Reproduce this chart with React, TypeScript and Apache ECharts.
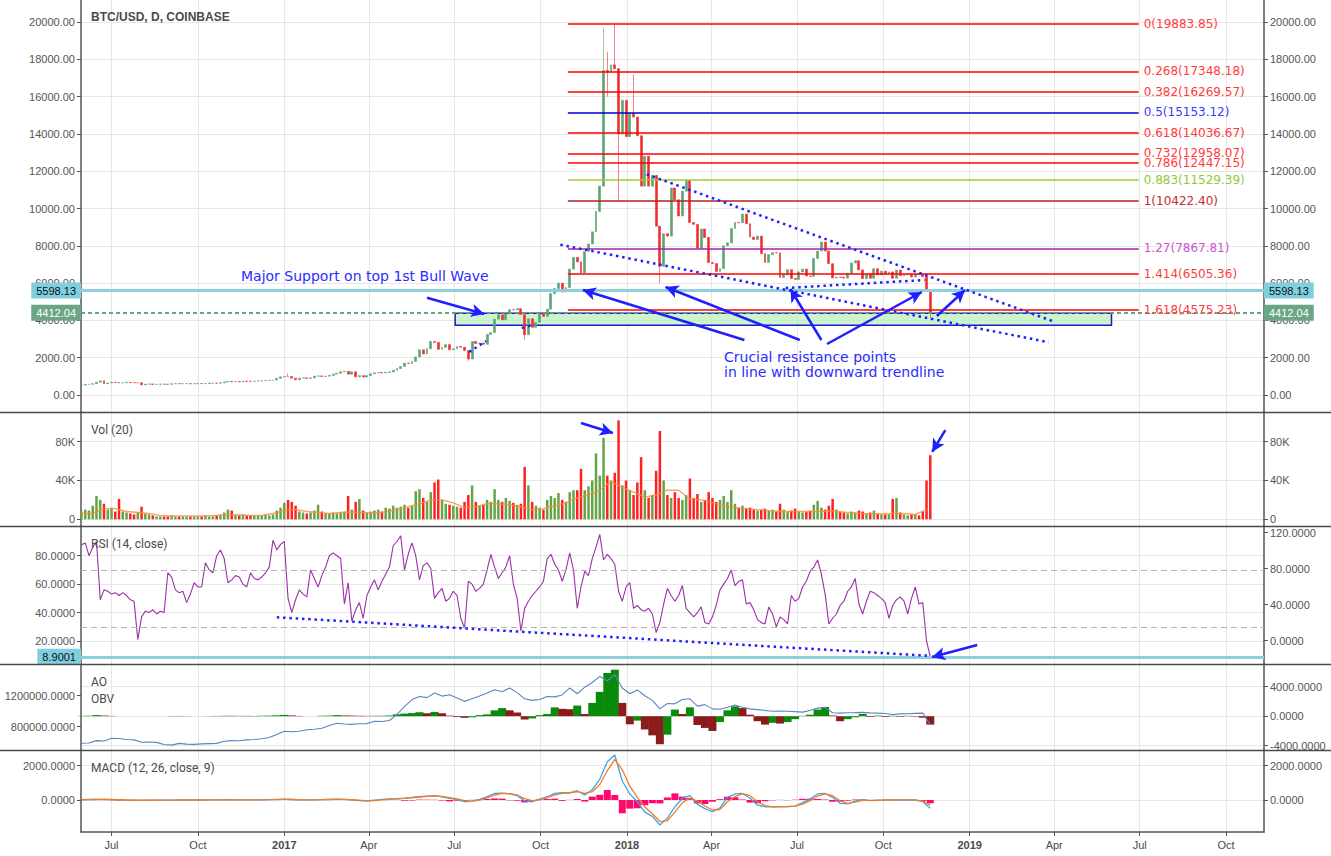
import React, { useEffect, useRef } from 'react';
import * as echarts from 'echarts';

const DAY = 86400000;
const START = Date.UTC(2016, 4, 30);
const CANDLE_STEP = 4;
const IND_STEP = 8;
const MA_STEP = 12;
const X_MIN = Date.UTC(2016, 4, 29, 12);
const X_MAX = Date.UTC(2019, 10, 10, 10);

const d = (s: string) => {
  const [y, m, dd] = s.split('-').map(Number);
  return Date.UTC(y, m - 1, dd);
};

const xTickDates = ['2016-07-01', '2016-10-01', '2017-01-01', '2017-04-01', '2017-07-01', '2017-10-01', '2018-01-01', '2018-04-01', '2018-07-01', '2018-10-01', '2019-01-01', '2019-04-01', '2019-07-01', '2019-10-01'];
const MONTHS = ['Jan', 'Feb', 'Mar', 'Apr', 'May', 'Jun', 'Jul', 'Aug', 'Sep', 'Oct', 'Nov', 'Dec'];

// BTC/USD closes, one every 4 days from 2016-05-30
const closes = [
  530, 570, 580, 605, 690, 760, 610, 645, 680, 670,
  650, 655, 680, 665, 655, 655, 545, 585, 592, 570,
  575, 585, 578, 575, 605, 612, 605, 607, 610, 602,
  605, 614, 612, 616, 637, 638, 632, 655, 700, 735,
  710, 715, 705, 750, 738, 735, 742, 765, 770, 780,
  785, 800, 895, 975, 998, 990, 905, 820, 905, 920,
  895, 920, 1010, 1025, 995, 1010, 1055, 1125, 1170, 1250,
  1270, 1115, 1245, 975, 1040, 965, 1040, 1140, 1190, 1205,
  1180, 1210, 1240, 1330, 1420, 1530, 1710, 1690, 1800, 2040,
  2420, 2200, 2480, 2870, 2820, 2450, 2550, 2700, 2430, 2480,
  2600, 2560, 2380, 1930, 2870, 2760, 2790, 2720, 3250, 3350,
  4070, 4300, 4030, 4360, 4580, 4570, 4630, 4320, 3230, 4090,
  3630, 3900, 4360, 4220, 4600, 5440, 5710, 6000, 5520, 5760,
  6750, 7380, 7140, 6550, 7700, 8100, 8750, 9840, 11200, 17400,
  17300, 17700, 17500, 14000, 15800, 13850, 15100, 14900, 13900, 11200,
  12800, 11200, 11780, 9050, 6900, 8650, 8520, 11100, 10470, 9600,
  10930, 11500, 9250, 9150, 7870, 8900, 8450, 7100, 7050, 6620,
  6780, 8000, 8160, 8930, 9250, 9240, 9700, 9180, 8470, 8340,
  8520, 7580, 7110, 7530, 7630, 7620, 6300, 6450, 6720, 6250,
  6200, 6600, 6750, 6380, 6360, 7320, 7720, 8200, 7720, 7040,
  6280, 6320, 6310, 6270, 6530, 7080, 7200, 6710, 6240, 6490,
  6260, 6770, 6440, 6640, 6500, 6600, 6260, 6700, 6400, 6450,
  6470, 6330, 6480, 6450, 6350, 5600, 4412.04,
];
const firstOpen = 525;
// wick extremes for a few candles (index into closes)
const wickIdx = [55, 103, 118, 139, 140, 142, 143, 147, 154, 226];
const wickLow = [0, 1840, 2970, 0, 16000, 0, 10420, 0, 6000, 4050];
const wickHigh = [1150, 0, 0, 19700, 18400, 19890, 0, 17200, 0, 0];

// volume in thousands, same 4-day steps
const volumesK = [
  8, 10, 9, 14, 24, 20, 16, 10, 12, 8,
  21, 8, 7, 6, 5, 7, 13, 6, 5, 4,
  3, 3, 3, 3, 4, 3, 3, 3, 3, 3,
  3, 3, 3, 4, 3, 3, 4, 5, 7, 10,
  9, 5, 4, 5, 4, 4, 4, 4, 4, 5,
  4, 5, 9, 12, 17, 20, 18, 14, 8, 7,
  6, 7, 9, 15, 8, 6, 6, 7, 6, 7,
  8, 24, 10, 18, 21, 9, 7, 8, 9, 10,
  8, 12, 11, 14, 12, 13, 15, 12, 14, 29,
  31, 22, 18, 28, 38, 41, 20, 16, 15, 14,
  13, 12, 18, 25, 35, 18, 14, 15, 20, 18,
  31, 20, 18, 22, 19, 17, 15, 16, 54, 35,
  18, 14, 12, 10, 20, 24, 22, 27, 20, 18,
  28, 30, 30, 52, 30, 34, 40, 68, 45, 84,
  45, 40, 48, 102, 35, 40, 30, 25, 38, 64,
  30, 22, 25, 50, 91, 40, 25, 22, 28, 22,
  20, 25, 42, 22, 26, 18, 20, 28, 22, 18,
  20, 24, 18, 30, 16, 12, 14, 11, 12, 10,
  9, 10, 11, 9, 10, 8, 16, 10, 8, 9,
  11, 8, 7, 8, 9, 15, 19, 12, 10, 14,
  21, 10, 8, 7, 6, 8, 7, 9, 8, 6,
  7, 9, 6, 5, 5, 5, 21, 22, 7, 5,
  4, 5, 5, 4, 8, 40, 66,
];
// volume MA(20), one every 12 days, thousands
const volMaK = [
  6, 6, 11, 11, 8, 7, 6, 4, 3.5, 3.5,
  3.5, 3.5, 4, 4.5, 4.5, 4, 4, 6, 9, 10,
  8, 7, 6, 7, 7.5, 7, 6.5, 7.5, 10, 13,
  16, 20, 20, 17, 12, 13, 16, 16, 15, 13,
  10, 11, 14, 17, 22, 25, 30, 39, 33, 28,
  23, 25, 30, 30, 21, 20, 17, 14, 12, 11,
  10, 9, 8, 8, 8, 8, 8.5, 8, 7, 6,
  5.5, 5.5, 6, 6, 5, 10,
];
// RSI(14), 4-day steps
const rsi = [
  87.7, 89, 80, 86, 90, 49, 56, 55, 53, 54,
  52, 54, 52, 49, 48, 21, 37, 41, 40, 42,
  39, 41, 40, 68, 65, 56, 54, 55, 47, 53,
  61, 58, 58, 75, 70, 68, 80, 84, 78, 61,
  63, 66, 65, 60, 58, 68, 64, 63, 65, 68,
  72, 91, 84, 88, 90, 50, 40, 49, 56, 53,
  51, 70, 64, 58, 66, 72, 80, 82, 80, 78,
  46, 61, 34, 42, 47, 36, 52, 58, 63, 56,
  62, 67, 72, 87, 90, 94, 70, 81, 89, 80,
  63, 73, 75, 71, 50, 54, 57, 48, 50, 55,
  52, 36, 29, 62, 60, 55, 57, 60, 70, 81,
  72, 64, 68, 72, 80, 60, 50, 27, 43, 48,
  52, 55, 58, 62, 78, 81, 74, 70, 62, 70,
  82, 70, 43, 58, 69, 66, 78, 86, 95, 77,
  81, 78, 74, 55, 48, 58, 61, 43, 45, 42,
  41, 43, 39, 26, 33, 46, 57, 52, 48, 52,
  59, 43, 40, 37, 40, 44, 33, 32, 37, 45,
  56, 60, 64, 70, 59, 62, 63, 46, 47, 42,
  35, 33, 32, 44, 39, 30, 37, 35, 32, 52,
  48, 50, 58, 62, 69, 72, 77, 67, 53, 32,
  36, 39, 45, 48, 55, 58, 64, 46, 39, 48,
  55, 54, 52, 50, 47, 36, 45, 49, 51, 48,
  39, 50, 58, 46, 47, 20, 8.9,
];
// 8-day steps: OBV (thousands), AO, MACD, signal, histogram
const obvK = [
  586, 590, 620, 615, 650, 648, 635, 630, 600, 602,
  598, 570, 562, 585, 575, 572, 578, 582, 585, 612,
  620, 618, 630, 635, 645, 660, 700, 740, 735, 742,
  760, 768, 780, 815, 845, 835, 830, 838, 840, 870,
  868, 880, 960, 1060, 1150, 1190, 1175, 1235, 1195, 1213,
  1170, 1127, 1160, 1195, 1235, 1277, 1250, 1300, 1240, 1160,
  1140, 1150, 1190, 1185, 1210, 1300, 1225, 1310, 1370, 1450,
  1390, 1470, 1300, 1225, 1275, 1200, 1140, 1030, 1100, 1095,
  1150, 1160, 1065, 1085, 1030, 1025, 1050, 1080, 1050, 1030,
  1020, 1010, 1000, 1003, 1000, 995, 988, 1010, 1040, 1050,
  980, 975, 980, 982, 985, 978, 975, 970, 958, 965,
  968, 972, 975, 826,
];
const ao = [
  40, 60, 150, 80, 40, 0, 0, 0, 0, 0,
  0, 0, 30, 40, 20, 0, 0, 20, 40, 50,
  60, 40, 50, 40, 60, 80, 120, 180, 100, 40,
  0, 0, 60, 80, 150, 100, 80, 60, 40, 60,
  60, 100, 250, 350, 420, 540, 400, 580, 400, 80,
  -100, -220, -150, 150, 250, 800, 1100, 800, 500, -450,
  -300, 150, 300, 1200, 1000, 950, 1440, 300, 1800, 3300,
  5860, 6300, 1800, -1100, -600, -1800, -2600, -3800, -2500, 900,
  300, 1200, -1200, -1590, -2000, -800, 800, 1340, 1100, 200,
  -680, -1140, -900, -1000, -800, -400, 50, 200, 900, 1250,
  100, -680, -400, -150, 300, -100, 80, -100, 60, -80,
  50, -60, -200, -1140,
];
const macd = [
  20, 30, 40, 35, 20, 0, -10, -15, -20, -15,
  -10, -8, -5, 0, 0, 0, 2, 5, 8, 15,
  15, 12, 10, 12, 15, 25, 40, 50, 30, 10,
  5, 10, 25, 40, 50, 40, 10, -40, -60, -20,
  40, 60, 80, 110, 150, 200, 230, 250, 180, 100,
  20, -100, -60, 40, 200, 380, 400, 350, 250, -50,
  -100, 50, 190, 380, 420, 420, 540, 290, 600, 1200,
  2220, 2610, 1100, 350, -100, -700, -950, -1450, -1050, -390,
  100, 250, -250, -500, -680, -450, 150, 350, 380, 100,
  -290, -390, -400, -380, -380, -350, -150, 50, 350, 380,
  150, -190, -230, -50, 20, -40, -20, 0, 10, 0,
  5, 0, -100, -480,
];
const signal = [
  15, 20, 30, 35, 30, 15, 0, -8, -15, -15,
  -12, -10, -7, -3, 0, 0, 1, 3, 6, 10,
  13, 13, 11, 11, 13, 18, 28, 40, 38, 22,
  10, 8, 18, 30, 42, 42, 25, -10, -40, -35,
  5, 40, 65, 95, 130, 175, 210, 235, 210, 140,
  60, -40, -70, -10, 120, 290, 380, 370, 290, 80,
  -40, 10, 130, 300, 390, 420, 480, 380, 480, 900,
  1700, 2350, 1750, 800, 150, -400, -800, -1250, -1200, -700,
  -150, 100, -50, -350, -580, -550, -100, 200, 370, 250,
  -100, -320, -400, -390, -380, -360, -240, -40, 220, 350,
  250, -50, -200, -120, -20, -20, -25, -10, 5, 3,
  4, 2, -60, -300,
];
const hist = [
  5, 10, 10, 0, -10, -15, -10, -7, -5, 0,
  2, 2, 2, 3, 0, 0, 1, 2, 2, 5,
  2, -1, -1, 1, 2, 7, 12, 10, -8, -12,
  -5, 2, 7, 10, 8, -2, -15, -30, -20, 15,
  35, 20, 15, -40, -30, 25, 20, 15, -30, -80,
  -40, -60, 10, 30, 60, 90, 80, -20, -40, -140,
  -60, 40, 60, 80, -50, 10, 60, -90, 200, 300,
  580, 290, -770, -500, -480, -300, -190, -200, 150, 385,
  200, 120, -200, -230, -100, 50, 190, 160, 30, -150,
  -190, -70, -20, 10, -10, 20, 70, 80, 60, 30,
  -100, -90, -40, 30, 25, -15, 10, -10, 8, -5,
  5, -5, -60, -190,
];

const fibRatios = ['0', '0.268', '0.382', '0.5', '0.618', '0.732', '0.786', '0.883', '1', '1.27', '1.414', '1.618'];
const fibPrices = [19883.85, 17348.18, 16269.57, 15153.12, 14036.67, 12958.07, 12447.15, 11529.39, 10422.4, 7867.81, 6505.36, 4575.23];
const fibLineColors = ['#ff0000', '#ff0000', '#ff0000', '#0000cc', '#ff0000', '#ff0000', '#ff0000', '#9acd32', '#b22222', '#aa22aa', '#ff0000', '#ff0000'];
const fibTextColors = ['#ff3b3b', '#ff3b3b', '#ff3b3b', '#3b3bff', '#ff3b3b', '#ff3b3b', '#ff3b3b', '#94c83a', '#c03030', '#cc55cc', '#ff3b3b', '#ff3b3b'];
const fibSpan = ['2017-10-30', '2019-06-30'];

const priceTrends: [string, number][][] = [
  [['2018-01-22', 11834], ['2019-04-01', 3930]],
  [['2017-10-22', 8059], ['2019-03-26', 2826]],
  [['2018-06-19', 5737], ['2018-11-14', 6166]],
  [['2017-07-17', 2306], ['2017-08-04', 2895]],
  [['2017-09-11', 3592], ['2017-09-23', 3753]],
];
const priceArrows: [string, number][][] = [
  [['2017-06-02', 5217], ['2017-08-02', 4343]],
  [['2018-05-06', 2949], ['2017-11-15', 5630]],
  [['2018-07-04', 2949], ['2018-02-11', 5791]],
  [['2018-07-27', 2949], ['2018-06-24', 5684]],
  [['2018-08-02', 2735], ['2018-11-11', 5523]],
  [['2018-11-27', 4236], ['2018-12-27', 5630]],
];
const volArrows: [string, number][][] = [
  [['2017-11-13', 99300], ['2017-12-17', 89000]],
  [['2018-12-06', 92000], ['2018-11-22', 69400]],
];
const rsiArrows: [string, number][][] = [[['2019-01-09', 17.2], ['2018-11-22', 8.7]]];
const rsiTrend: [string, number][] = [['2016-12-24', 36.7], ['2018-11-18', 9.6]];
const supportBox: [string, number][] = [['2017-07-02', 4381], ['2019-06-01', 3737]];
const supportLevel = 5598.13;
const lastPrice = 4412.04;
const rsiLevel = 8.9001;
const rsiBands = [70, 30];

const AXIS = '#555';
const GRID = '#e6e6e6';
const BLUE = '#1f1fff';

function buildOption() {
  const dates = closes.map((_, i) => START + i * CANDLE_STEP * DAY);
  const candles = closes.map((c, i) => {
    const o = i === 0 ? firstOpen : closes[i - 1];
    let lo = Math.min(o, c);
    let hi = Math.max(o, c);
    const w = wickIdx.indexOf(i);
    if (w >= 0) {
      if (wickLow[w]) lo = Math.min(lo, wickLow[w]);
      if (wickHigh[w]) hi = Math.max(hi, wickHigh[w]);
    }
    return [dates[i], o, c, lo, hi];
  });
  const volData = volumesK.map((v, i) => ({
    value: [dates[i], v * 1000],
    itemStyle: { color: candles[i][2] >= candles[i][1] ? '#64a447' : '#ff2020' },
  }));
  const ind = (arr: number[], mul = 1) => arr.map((v, k) => [START + k * IND_STEP * DAY, v * mul]);
  const aoData = ao.map((v, k) => ({
    value: [START + k * IND_STEP * DAY, v],
    itemStyle: { color: k === 0 || v >= ao[k - 1] ? '#0a8a0a' : '#8b1c1c' },
  }));

  const xTicks = xTickDates.map(d);
  const xAxis = [0, 1, 2, 3, 4].map((g) => {
    const bottom = g === 4;
    return {
      type: 'value',
      gridIndex: g,
      min: X_MIN,
      max: X_MAX,
      axisLine: { show: bottom, onZero: false, lineStyle: { color: AXIS, width: 1.5 } },
      axisTick: { show: bottom, customValues: xTicks, length: 4, lineStyle: { color: AXIS } },
      axisLabel: {
        show: bottom,
        customValues: xTicks,
        margin: 7,
        color: '#4a4a4a',
        fontSize: 11,
        fontFamily: 'Arial',
        formatter: (v: number) => {
          const dt = new Date(v);
          const m = dt.getUTCMonth();
          return m === 0 ? `{y|${dt.getUTCFullYear()}}` : MONTHS[m];
        },
        rich: { y: { fontWeight: 'bold', color: '#4a4a4a', fontSize: 11, fontFamily: 'Arial' } },
      },
      splitLine: { show: true, lineStyle: { color: GRID, width: 1 } },
    };
  });

  const yAx = (g: number, pos: string, min: number, max: number, vals: number[], fmt: (v: number) => string, split: boolean) => ({
    type: 'value',
    gridIndex: g,
    position: pos,
    min,
    max,
    axisLine: { show: true, onZero: false, lineStyle: { color: AXIS, width: 1.5 } },
    axisTick: { show: true, customValues: vals, length: 4, lineStyle: { color: AXIS } },
    axisLabel: { customValues: vals, formatter: fmt, color: '#555', fontSize: 11, fontFamily: 'Arial', margin: 6 },
    splitLine: { show: split, lineStyle: { color: GRID, width: 1 } },
  });
  const f2 = (v: number) => Number(v).toFixed(2);
  const f4 = (v: number) => Number(v).toFixed(4);
  const fk = (v: number) => (Number(v) === 0 ? '0' : `${Number(v) / 1000}K`);
  const priceTicks = [0, 2000, 4000, 6000, 8000, 10000, 12000, 14000, 16000, 18000, 20000];
  const yAxis = [
    yAx(0, 'left', -911, 21180, priceTicks, f2, true),
    yAx(0, 'right', -911, 21180, priceTicks, f2, false),
    yAx(1, 'left', -6900, 110600, [0, 40000, 80000], fk, true),
    yAx(1, 'right', -6900, 110600, [0, 40000, 80000], fk, false),
    yAx(2, 'left', 3.82, 100.9, [20, 40, 60, 80], f4, true),
    yAx(2, 'right', -25.9, 127.4, [0, 40, 80, 120], f4, false),
    yAx(3, 'left', 499355, 1609032, [800000, 1200000], f4, false),
    yAx(3, 'right', -4583, 7078, [-4000, 0, 4000], f4, true),
    yAx(4, 'left', -1855, 2900, [0, 2000], f4, true),
    yAx(4, 'right', -1855, 2900, [0, 2000], f4, false),
  ];

  const seg = (pts: [string, number][], style: any, arrow = false) => [
    {
      coord: [d(pts[0][0]), pts[0][1]],
      lineStyle: style,
      label: { show: false },
      symbol: 'none',
    },
    { coord: [d(pts[1][0]), pts[1][1]], symbol: arrow ? 'arrow' : 'none', symbolSize: arrow ? [10, 13] : 0 },
  ];
  const dotted = { color: BLUE, width: 2.5, type: [2.5, 3.8] };
  const arrowStyle = { color: BLUE, width: 2.5, type: 'solid' };
  const boxLabel = (text: string, bg: string, fg: string, pos: string) => ({
    show: true,
    position: pos,
    formatter: text,
    backgroundColor: bg,
    color: fg,
    padding: [3, 5, 2, 5],
    fontSize: 11,
    fontFamily: 'Arial',
    distance: 0,
  });

  const fibLines = fibPrices.map((p, j) => [
    {
      coord: [d(fibSpan[0]), p],
      lineStyle: { color: fibLineColors[j], width: 1.5, type: 'solid' },
      label: {
        show: true,
        position: 'end',
        formatter: `${fibRatios[j]}(${p.toFixed(2)})`,
        color: fibTextColors[j],
        fontSize: 12,
        fontFamily: 'DejaVu Sans',
        distance: 5,
      },
    },
    { coord: [d(fibSpan[1]), p] },
  ]);

  const series: any[] = [
    {
      type: 'candlestick',
      xAxisIndex: 0,
      yAxisIndex: 0,
      data: candles,
      barWidth: 2.4,
      itemStyle: { color: '#5ea273', color0: '#ee2f2f', borderColor: '#5ea273', borderColor0: '#ee2f2f', borderWidth: 0.6 },
      markArea: {
        silent: true,
        itemStyle: { color: 'rgba(185,240,185,0.7)', borderColor: '#1a1acc', borderWidth: 1.5 },
        data: [[{ coord: [d(supportBox[0][0]), supportBox[0][1]] }, { coord: [d(supportBox[1][0]), supportBox[1][1]] }]],
      },
      markLine: {
        silent: true,
        symbol: ['none', 'none'],
        animation: false,
        data: [
          ...fibLines,
          { yAxis: supportLevel, lineStyle: { color: '#8ccfdd', width: 3, type: 'solid' }, label: boxLabel('5598.13', '#80cfe0', '#111', 'start') },
          { yAxis: supportLevel, lineStyle: { color: '#8ccfdd', width: 3, type: 'solid' }, label: boxLabel('5598.13', '#80cfe0', '#111', 'end') },
          { yAxis: lastPrice, lineStyle: { color: '#5e9e7c', width: 1.5, type: [4, 3] }, label: boxLabel('4412.04', '#6aa584', '#fff', 'start') },
          { yAxis: lastPrice, lineStyle: { color: '#5e9e7c', width: 1.5, type: [4, 3] }, label: boxLabel('4412.04', '#6aa584', '#fff', 'end') },
          ...priceTrends.map((t) => seg(t, dotted)),
          ...priceArrows.map((a) => seg(a, arrowStyle, true)),
        ],
      },
    },
    {
      type: 'bar',
      xAxisIndex: 1,
      yAxisIndex: 2,
      data: volData,
      barWidth: 2.5,
      markLine: {
        silent: true,
        symbol: ['none', 'none'],
        data: volArrows.map((a) => seg(a, arrowStyle, true)),
      },
    },
    {
      type: 'line',
      xAxisIndex: 1,
      yAxisIndex: 2,
      data: volMaK.map((v, k) => [START + k * MA_STEP * DAY, v * 1000]),
      showSymbol: false,
      lineStyle: { color: 'rgba(247,140,60,0.8)', width: 1.4 },
    },
    {
      type: 'line',
      xAxisIndex: 2,
      yAxisIndex: 4,
      data: rsi.map((v, i) => [dates[i], v]),
      showSymbol: false,
      lineStyle: { color: '#9b30a8', width: 1.1 },
      markLine: {
        silent: true,
        symbol: ['none', 'none'],
        data: [
          ...rsiBands.map((b) => ({ yAxis: b, lineStyle: { color: '#b4b4b4', width: 1, type: [6, 4] }, label: { show: false } })),
          { yAxis: rsiLevel, lineStyle: { color: '#8ccfdd', width: 3, type: 'solid' }, label: boxLabel('8.9001', '#80cfe0', '#111', 'start') },
          seg(rsiTrend, dotted),
          ...rsiArrows.map((a) => seg(a, arrowStyle, true)),
        ],
      },
    },
    {
      type: 'bar',
      xAxisIndex: 3,
      yAxisIndex: 7,
      data: aoData,
      barWidth: 8,
    },
    {
      type: 'line',
      xAxisIndex: 3,
      yAxisIndex: 6,
      data: ind(obvK, 1000),
      showSymbol: false,
      lineStyle: { color: '#5b84c4', width: 1.1 },
    },
    {
      type: 'bar',
      xAxisIndex: 4,
      yAxisIndex: 8,
      data: ind(hist),
      barWidth: 7,
      itemStyle: { color: '#ff0a6c' },
    },
    {
      type: 'line',
      xAxisIndex: 4,
      yAxisIndex: 8,
      data: ind(macd),
      showSymbol: false,
      lineStyle: { color: '#3ea3ee', width: 1.3 },
    },
    {
      type: 'line',
      xAxisIndex: 4,
      yAxisIndex: 8,
      data: ind(signal),
      showSymbol: false,
      lineStyle: { color: '#f57c22', width: 1.3 },
    },
  ];

  const txt = (text: string, x: number, y: number, font: string, fill: string) => ({
    type: 'text',
    x,
    y,
    z: 100,
    style: { text, font, fill, verticalAlign: 'middle', textVerticalAlign: 'middle' },
  });
  const sep = (y: number) => ({
    type: 'line',
    z: 100,
    shape: { x1: 0, y1: y, x2: 1331, y2: y },
    style: { stroke: '#4a4a4a', lineWidth: 1.5 },
  });

  const graphic = [
    sep(412.5),
    sep(526.5),
    sep(664.5),
    sep(750.5),
    txt('BTC/USD, D, COINBASE', 91, 17, 'bold 12px Arial', '#4a4a4a'),
    txt('Vol (20)', 91, 430, '12px Roboto', '#4a4a4a'),
    txt('RSI (14, close)', 91, 544, '12px Roboto', '#4a4a4a'),
    txt('AO', 91, 682, '12px Roboto', '#4a4a4a'),
    txt('OBV', 91, 699, '12px Roboto', '#4a4a4a'),
    txt('MACD (12, 26, close, 9)', 91, 768, '12px Roboto', '#4a4a4a'),
    txt('Major Support on top 1st Bull Wave', 241, 276, '14px "DejaVu Sans"', '#2b2bff'),
    txt('Crucial resistance points', 724, 357, '14px "DejaVu Sans"', '#2b2bff'),
    txt('in line with downward trendline', 724, 372, '14px "DejaVu Sans"', '#2b2bff'),
  ];

  const grid = [
    { left: 81, right: 67, top: 0, height: 412 },
    { left: 81, right: 67, top: 412, height: 114 },
    { left: 81, right: 67, top: 526, height: 138 },
    { left: 81, right: 67, top: 664, height: 86 },
    { left: 81, right: 67, top: 750, height: 82 },
  ];

  return {
    animation: false,
    backgroundColor: '#ffffff',
    grid,
    xAxis,
    yAxis,
    series,
    graphic,
  };
}

export default function App() {
  const ref = useRef<HTMLDivElement>(null);
  useEffect(() => {
    const chart = echarts.init(ref.current as HTMLDivElement, undefined, { renderer: 'svg' });
    chart.setOption(buildOption() as any);
    return () => chart.dispose();
  }, []);
  return (
    <div
      ref={ref}
      style={{ position: 'absolute', left: 0, top: 0, width: 1331, height: 856, background: '#fff' }}
    />
  );
}
